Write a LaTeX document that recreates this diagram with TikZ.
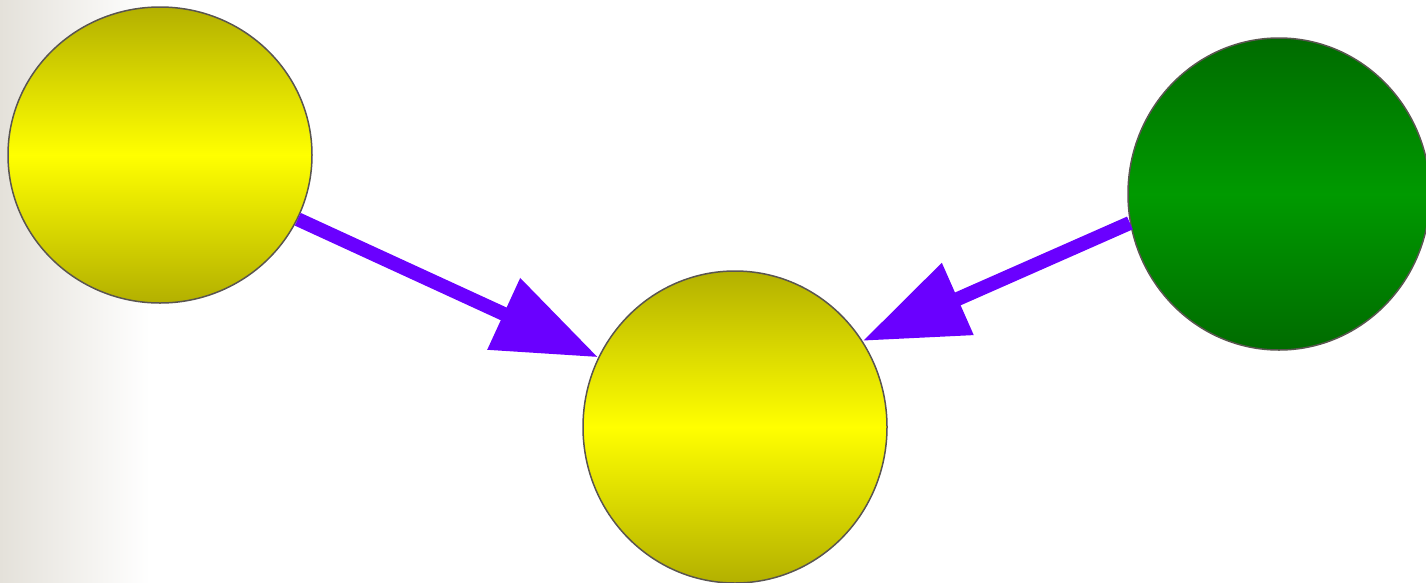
\documentclass[tikz,border=0pt]{standalone}
\usetikzlibrary{shapes.geometric,arrows.meta}
\definecolor{yedge}{HTML}{B3B000}
\definecolor{ymid}{HTML}{FFFF00}
\definecolor{gedge}{HTML}{006B00}
\definecolor{gmid}{HTML}{009A00}
\definecolor{outl}{HTML}{5A5550}
\definecolor{arr}{HTML}{6A00FF}
\definecolor{strip}{HTML}{E4E1DA}
\begin{document}
\begin{tikzpicture}[x=1pt,y=-1pt,
  ball/.style={ellipse, draw=outl, line width=1.5pt, inner sep=0pt},
  yball/.style={ball, top color=yedge, bottom color=yedge, middle color=ymid},
  gball/.style={ball, top color=gedge, bottom color=gedge, middle color=gmid},
  conn/.style={draw=arr, line width=14pt, -{Triangle[length=104pt,width=75pt]}}]
\useasboundingbox (0,0) rectangle (1426,582);
\fill[white] (0,0) rectangle (1426,582);
\shade[left color=strip, right color=white] (0,0) rectangle (150,582);
\node[yball, minimum width=304pt, minimum height=296pt] (a) at (160,155) {};
\node[yball, minimum width=304pt, minimum height=312pt] (b) at (735,427) {};
\node[gball, minimum width=302pt, minimum height=312pt] (c) at (1279,194) {};
\draw[conn] (a.-25.7) -- (b.153.3);
\draw[conn] (c.-169.4) -- (b.34);
\end{tikzpicture}
\end{document}
